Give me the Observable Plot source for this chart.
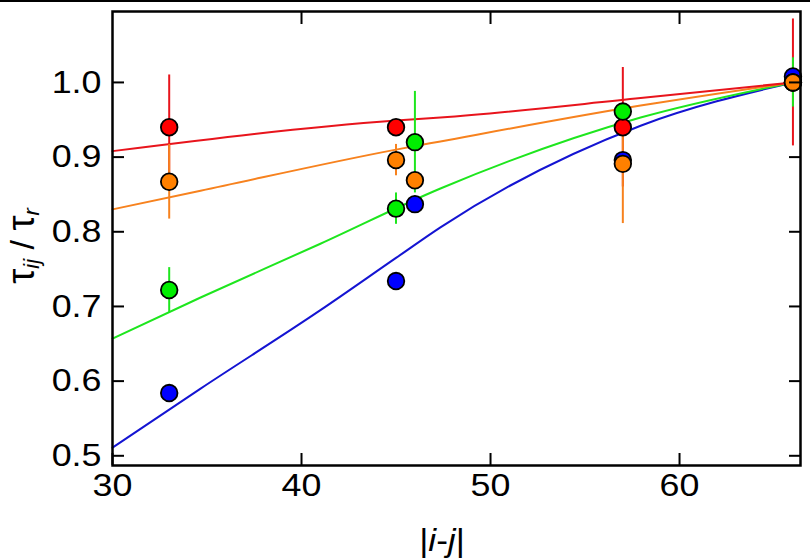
<!DOCTYPE html>
<html>
<head>
<meta charset="utf-8">
<script src="https://cdn.jsdelivr.net/npm/d3@7"></script>
<script src="https://cdn.jsdelivr.net/npm/@observablehq/plot@0.6"></script>
<style>
  html, body { margin: 0; padding: 0; background: #fff; }
  #chart svg { display: block; font-family: "Liberation Sans", Arial, sans-serif; }
</style>
</head>
<body>
<div id="chart"></div>
<script>
// ---- data ----
const seriesNames = ["red", "orange", "green", "blue"];
const seriesColors = { red: "#ff0000", orange: "#ff8000", green: "#00ee00", blue: "#0000ff" };
const lineColors = { red: "#e8141c", orange: "#f7821e", green: "#1ee61e", blue: "#1414d2" };

// measured points
const redX = [33, 45, 57, 66];
const redY = [0.940, 0.940, 0.940, 1.000];
const redErr = [0.070, 0, 0.080, 0.085];

const orangeX = [33, 45, 46, 57, 66];
const orangeY = [0.867, 0.896, 0.869, 0.891, 1.000];
const orangeErr = [0.050, 0.021, 0, 0.080, 0];

const greenX = [33, 45, 46, 57, 66];
const greenY = [0.722, 0.831, 0.920, 0.961, 1.000];
const greenErr = [0.030, 0.021, 0.068, 0, 0.033];

const blueX = [33, 45, 46, 57, 66];
const blueY = [0.584, 0.734, 0.837, 0.896, 1.008];
const blueErr = [0, 0, 0, 0, 0];

// model curves
const redCurveX = [30, 45, 47.35, 57.94, 66];
const redCurveY = [0.908, 0.949, 0.953, 0.979, 1.000];
const orangeCurveX = [30, 34.66, 45, 47.35, 57.94, 66];
const orangeCurveY = [0.830, 0.855, 0.910, 0.921, 0.969, 1.000];
const greenCurveX = [30, 34.66, 41, 47.35, 57.94, 66];
const greenCurveY = [0.657, 0.712, 0.784, 0.858, 0.953, 1.000];
const blueCurveX = [30, 34.66, 41, 45, 47.35, 57.94, 66];
const blueCurveY = [0.511, 0.590, 0.695, 0.765, 0.806, 0.942, 1.000];

const xTicks = [30, 40, 50, 60];
const yTicks = [0.5, 0.6, 0.7, 0.8, 0.9, 1.0];

// ---- build tables ----
const pts = {
  red: [redX, redY, redErr],
  orange: [orangeX, orangeY, orangeErr],
  green: [greenX, greenY, greenErr],
  blue: [blueX, blueY, blueErr]
};
const crv = {
  red: [redCurveX, redCurveY],
  orange: [orangeCurveX, orangeCurveY],
  green: [greenCurveX, greenCurveY],
  blue: [blueCurveX, blueCurveY]
};
const curveRows = [];
for (const s of ["blue", "green", "orange", "red"]) {
  const [xs, ys] = crv[s];
  xs.forEach((x, i) => curveRows.push({ s, x, y: ys[i] }));
}
const errRows = [];
for (const s of ["red", "green", "blue", "orange"]) {
  const [xs, ys, es] = pts[s];
  xs.forEach((x, i) => { if (es[i] > 0) errRows.push({ s, x, y1: ys[i] - es[i], y2: ys[i] + es[i] }); });
}
const dotRows = [];
for (const s of ["blue", "red", "green", "orange"]) {
  const [xs, ys] = pts[s];
  xs.forEach((x, i) => dotRows.push({ s, x, y: ys[i] }));
}

const plot = Plot.plot({
  width: 810,
  height: 558,
  marginLeft: 112,
  marginRight: 10,
  marginTop: 11,
  marginBottom: 93,
  style: { fontFamily: "Liberation Sans, Arial, sans-serif", background: "white", overflow: "visible" },
  x: { domain: [30, 66.4] },
  y: { domain: [0.487, 1.095] },
  marks: [
    Plot.line(curveRows, { x: "x", y: "y", z: "s", stroke: d => lineColors[d.s], strokeWidth: 2, curve: "monotone-x" }),
    Plot.ruleX(errRows, { x: "x", y1: "y1", y2: "y2", stroke: d => lineColors[d.s], strokeWidth: 2 }),
    Plot.dot(dotRows, { x: "x", y: "y", r: 8.3, fill: d => seriesColors[d.s], stroke: "black", strokeWidth: 1.8 }),
    Plot.axisX(xTicks, { anchor: "bottom", tickSize: -12, strokeWidth: 2, text: null, label: null }),
    Plot.axisX(xTicks, { anchor: "bottom", tickSize: 0, tickPadding: 8, fontSize: 32, fill: "black", label: null }),
    Plot.axisX(xTicks.slice(1), { anchor: "top", tickSize: -12, strokeWidth: 2, text: null, label: null }),
    Plot.axisY(yTicks, { anchor: "left", tickSize: -12, strokeWidth: 2, text: null, label: null }),
    Plot.axisY(yTicks, { anchor: "left", tickSize: 0, tickPadding: 11, fontSize: 32, fill: "black", tickFormat: d3.format(".1f"), label: null }),
    Plot.axisY(yTicks, { anchor: "right", tickSize: -12, strokeWidth: 2, text: null, label: null }),
    Plot.frame({ stroke: "black", strokeWidth: 2.5 })
  ]
});

document.getElementById("chart").appendChild(plot);

const svg = d3.select(plot);
// the reference's lettering is a little wider than Arial: stretch tick labels horizontally
svg.selectAll("g[aria-label='x-axis tick label'] text, g[aria-label='y-axis tick label'] text")
  .each(function () {
    const t = this.getAttribute("transform") || "";
    this.setAttribute("transform", t + " scale(1.12,1)");
  });

// decorations: top rule, axis titles with italic subscripts
svg.append("line").attr("x1", 0).attr("x2", 810).attr("y1", 1).attr("y2", 1)
  .attr("stroke", "black").attr("stroke-width", 2);

const xl = svg.append("text").attr("transform", "translate(442,551) scale(1.1,1)").attr("text-anchor", "middle")
  .attr("font-size", 32).attr("fill", "black");
xl.append("tspan").text("|");
xl.append("tspan").attr("font-style", "italic").text("i");
xl.append("tspan").text("-");
xl.append("tspan").attr("font-style", "italic").text("j");
xl.append("tspan").text("|");

const yl = svg.append("text").attr("transform", "translate(34,246) rotate(-90)")
  .attr("text-anchor", "middle").attr("font-size", 38).attr("fill", "black");
yl.append("tspan").text("τ");
yl.append("tspan").attr("font-size", 22).attr("font-style", "italic").attr("dy", 5).text("ij");
yl.append("tspan").attr("font-size", 34).attr("dy", -5).text(" / ");
yl.append("tspan").text("τ");
yl.append("tspan").attr("font-size", 22).attr("font-style", "italic").attr("dy", 5).text("r");
</script>
</body>
</html>
